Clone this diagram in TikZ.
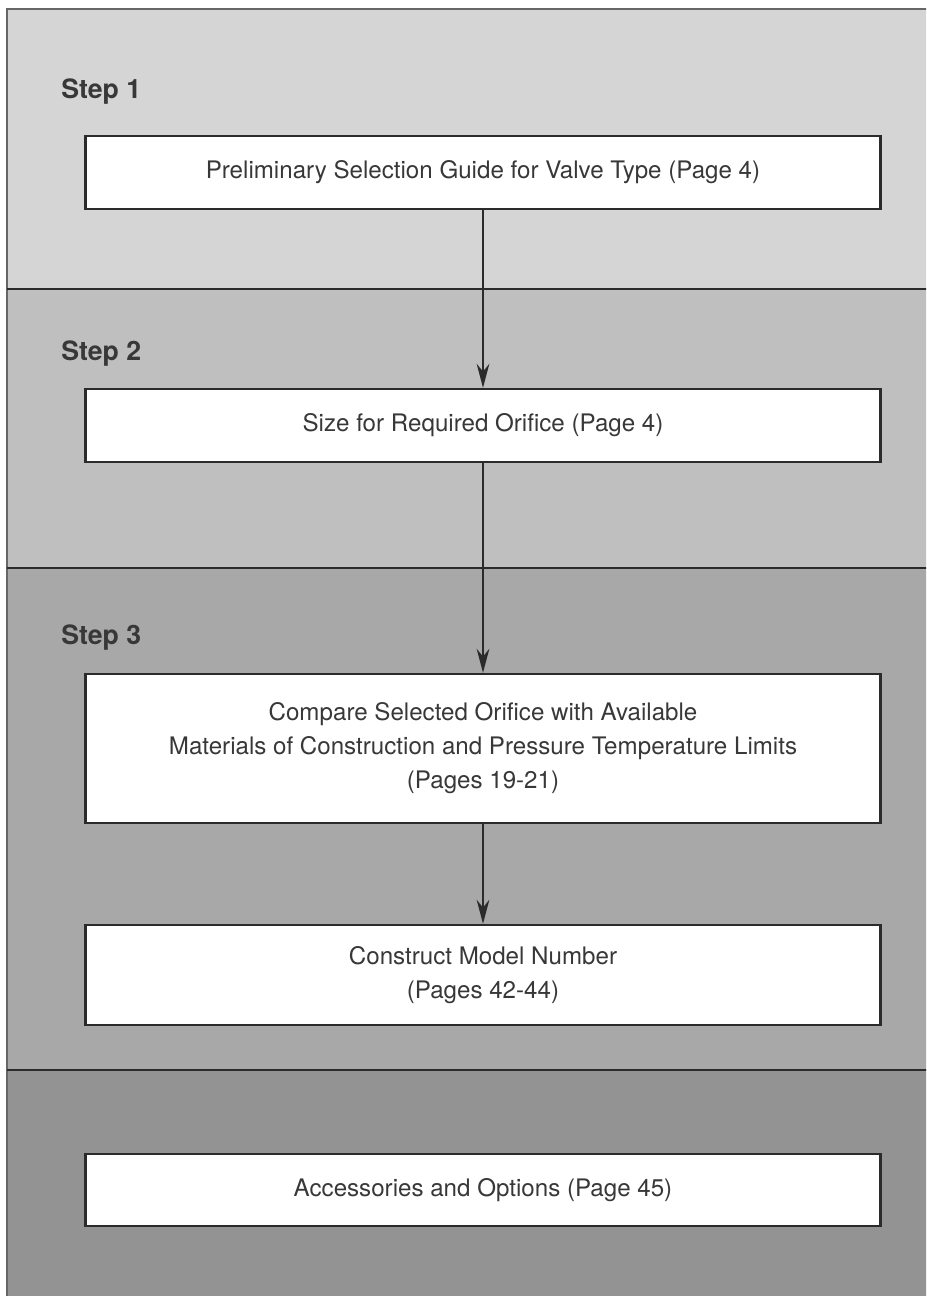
\documentclass[tikz,border=0pt]{standalone}
\usepackage{fontspec}
\setmainfont{TeX Gyre Heros}
\usetikzlibrary{arrows.meta}
\definecolor{bandone}{HTML}{D5D5D5}
\definecolor{bandtwo}{HTML}{BFBFBF}
\definecolor{bandthree}{HTML}{A8A8A8}
\definecolor{bandfour}{HTML}{939393}
\definecolor{boxline}{HTML}{2B2B2B}
\definecolor{textgray}{HTML}{383838}
\begin{document}
\begin{tikzpicture}[
        x=0.75pt, y=-0.75pt,
        stepbox/.style={draw=boxline, line width=1.8pt, fill=white, minimum width=596pt,
            align=center, inner sep=0pt, text=textgray, font=\fontsize{18.1}{25.5}\selectfont},
        steplabel/.style={anchor=base west, inner sep=0pt, text=textgray, font=\bfseries\fontsize{20}{24}\selectfont},
        flow/.style={draw=boxline, line width=1.5pt, -{Stealth[length=18pt, width=9.5pt]}}
    ]
        \useasboundingbox (0,0) rectangle (926,1296);
        \clip (0,0) rectangle (926,1296);

        % Bänder
        \fill[bandone] (7,9) rectangle (940,289);
        \fill[bandtwo] (7,289) rectangle (940,568);
        \fill[bandthree] (7,568) rectangle (940,1070);
        \fill[bandfour] (7,1070) rectangle (940,1310);
        \draw[gray!80!black, line width=1pt] (7,1310) -- (7,9) -- (940,9);
        \draw[boxline, line width=1pt] (7,289) -- (940,289);
        \draw[boxline, line width=1pt] (7,568) -- (940,568);
        \draw[boxline, line width=1pt] (7,1070) -- (940,1070);

        % Schritte
        \node[steplabel] (s1) at (61,98) {Step 1};
        \node[steplabel] (s2) at (61,360) {Step 2};
        \node[steplabel] (s3) at (61,644) {Step 3};

        % Kästen
        \node[stepbox, minimum height=54.75pt] (guide) at (483,172.5)
            {Preliminary Selection Guide for Valve Type (Page 4)};
        \node[stepbox, minimum height=54.75pt] (size) at (483,425.5)
            {Size for Required Orifice (Page 4)};
        \node[stepbox, minimum height=111.75pt] (compare) at (483,748.5)
            {Compare Selected Orifice with Available\\Materials of Construction and Pressure Temperature Limits\\(Pages 19-21)};
        \node[stepbox, minimum height=75pt] (model) at (483,975)
            {Construct Model Number\\(Pages 42-44)};
        \node[stepbox, minimum height=54pt] (access) at (483,1190)
            {Accessories and Options (Page 45)};

        % Pfeile
        \draw[flow] (guide) -- (size);
        \draw[flow] (size) -- (compare);
        \draw[flow] (compare) -- (model);
    \end{tikzpicture}
\end{document}
